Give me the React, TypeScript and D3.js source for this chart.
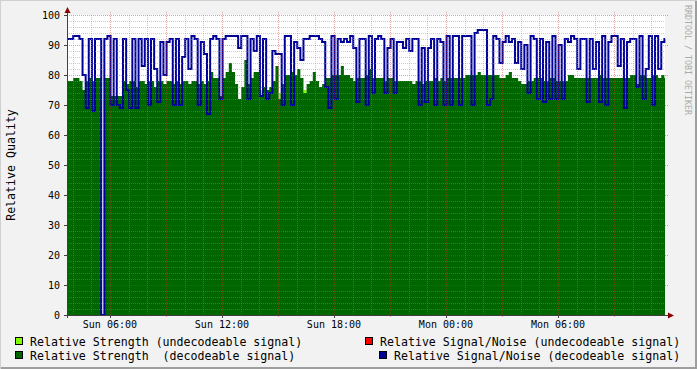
import React, { useEffect, useRef } from 'react';
import * as d3 from 'd3';

const WIDTH = 697;
const HEIGHT = 369;

// rrd samples, one every 10 minutes starting Sun 03:42
const startTime = new Date(2024, 0, 7, 3, 42);
const endTime = new Date(2024, 0, 8, 11, 44);
const stepMinutes = 10;

const snDecodeable = [
  92, 92, 93, 93, 92, 80, 69, 92, 68, 92,
  92, 0, 92, 93, 70, 92, 70, 69, 92, 75,
  69, 92, 69, 92, 83, 92, 70, 92, 82, 71,
  91, 80, 91, 92, 70, 92, 70, 86, 92, 82,
  93, 92, 70, 91, 87, 67, 92, 93, 92, 72,
  92, 93, 93, 93, 93, 89, 93, 93, 72, 92,
  88, 93, 73, 92, 72, 74, 88, 87, 87, 70,
  93, 93, 70, 91, 89, 85, 92, 92, 93, 93,
  93, 92, 91, 76, 69, 93, 72, 92, 91, 92,
  91, 93, 89, 71, 92, 92, 70, 93, 74, 92,
  93, 92, 74, 89, 92, 74, 91, 91, 89, 92,
  88, 92, 92, 70, 89, 71, 89, 92, 70, 92,
  91, 70, 93, 70, 93, 93, 70, 93, 93, 93,
  70, 94, 95, 95, 95, 70, 72, 93, 92, 84,
  91, 93, 91, 92, 84, 91, 82, 90, 74, 93,
  92, 72, 92, 71, 91, 72, 93, 72, 90, 72,
  92, 91, 93, 92, 82, 92, 92, 71, 92, 82,
  91, 71, 93, 70, 91, 93, 93, 83, 92, 69,
  91, 92, 92, 76, 93, 72, 82, 93, 70, 93,
  82, 91, 92,
];

const strengthDecodeable = [
  78, 78, 79, 79, 78, 75, 78, 79, 78, 79,
  79, 0, 79, 79, 73, 73, 73, 73, 78, 77,
  78, 78, 76, 78, 78, 77, 78, 78, 76, 78,
  78, 77, 78, 78, 77, 78, 77, 78, 78, 77,
  78, 78, 77, 78, 77, 78, 81, 79, 79, 73,
  79, 81, 84, 81, 77, 72, 76, 85, 77, 79,
  81, 81, 73, 76, 75, 76, 78, 83, 72, 77,
  80, 80, 81, 80, 82, 79, 74, 77, 78, 81,
  78, 76, 77, 79, 79, 80, 80, 80, 83, 80,
  80, 79, 78, 79, 79, 79, 80, 82, 79, 79,
  79, 79, 78, 79, 79, 78, 78, 78, 78, 78,
  78, 77, 78, 78, 77, 78, 78, 78, 79, 78,
  79, 78, 79, 79, 79, 79, 79, 79, 80, 80,
  80, 80, 81, 80, 80, 80, 80, 80, 80, 79,
  79, 80, 81, 79, 79, 78, 77, 77, 78, 78,
  79, 79, 79, 78, 78, 79, 79, 78, 78, 78,
  78, 80, 80, 79, 79, 79, 79, 79, 79, 79,
  79, 80, 79, 79, 79, 79, 79, 79, 79, 79,
  79, 80, 80, 77, 80, 80, 79, 79, 80, 80,
  79, 80, 79,
];

// undecodeable samples are mostly unknown: [slot, value]
const strengthUndecodeable: [number, number][] = [[62, 75], [68, 74], [76, 75]];
const snUndecodeable: [number, number][] = [];

const yTickValues = [0, 10, 20, 30, 40, 50, 60, 70, 80, 90, 100];

const legendItems = [
  { label: 'Relative Strength (undecodeable signal)', color: '#80ff00' },
  { label: 'Relative Signal/Noise (undecodeable signal)', color: '#ff0000' },
  { label: 'Relative Strength  (decodeable signal)', color: '#006600' },
  { label: 'Relative Signal/Noise (decodeable signal)', color: '#000099' },
];

const FONT = '"DejaVu Sans Mono", monospace';

const slotTime = (i: number) => new Date(startTime.getTime() + i * stepMinutes * 60000);

const RrdChart: React.FC = () => {
  const svgRef = useRef<SVGSVGElement | null>(null);

  useEffect(() => {
    if (!svgRef.current) return;
    const svg = d3.select(svgRef.current);
    svg.selectAll('*').remove();

    const left = 67, right = 665, top = 15, bottom = 315;
    const x = d3.scaleTime().domain([startTime, endTime]).range([left, right]);
    const y = d3.scaleLinear().domain([0, 100]).range([bottom, top]);

    // background + 3d border
    svg.append('rect').attr('width', WIDTH).attr('height', HEIGHT).attr('fill', '#f2f2f2');
    svg.append('path').attr('d', `M0,${HEIGHT} V0 H${WIDTH}`).attr('fill', 'none')
      .attr('stroke', '#d0d0d0').attr('stroke-width', 2);
    svg.append('path').attr('d', `M1,${HEIGHT - 1} H${WIDTH - 1} V1`).attr('fill', 'none')
      .attr('stroke', '#9e9e9e').attr('stroke-width', 2);

    svg.append('rect').attr('x', left).attr('y', top)
      .attr('width', right - left).attr('height', bottom - top).attr('fill', '#ffffff');

    const toPoints = (vals: number[]) => {
      const pts = vals.map((v, i) => ({ t: slotTime(i), v }));
      pts.push({ t: endTime, v: vals[vals.length - 1] });
      return pts;
    };

    // undecodeable strength (light green) sits behind
    strengthUndecodeable.forEach(([i, v]) => {
      svg.append('rect')
        .attr('x', x(slotTime(i)))
        .attr('y', y(v))
        .attr('width', x(slotTime(i + 1)) - x(slotTime(i)))
        .attr('height', y(0) - y(v))
        .attr('fill', '#80ff00');
    });

    const area = d3.area<{ t: Date; v: number }>()
      .x(d => x(d.t)).y0(y(0)).y1(d => y(d.v))
      .curve(d3.curveStepAfter);
    svg.append('path').datum(toPoints(strengthDecodeable))
      .attr('d', area).attr('fill', '#006600');

    snUndecodeable.forEach(([i, v]) => {
      svg.append('line')
        .attr('x1', x(slotTime(i))).attr('x2', x(slotTime(i + 1)))
        .attr('y1', y(v)).attr('y2', y(v))
        .attr('stroke', '#ff0000').attr('stroke-width', 2);
    });

    const line = d3.line<{ t: Date; v: number }>()
      .x(d => x(d.t)).y(d => y(d.v))
      .curve(d3.curveStepAfter);
    svg.append('path').datum(toPoints(snDecodeable))
      .attr('d', line).attr('fill', 'none')
      .attr('stroke', '#000099').attr('stroke-width', 2);

    // grid on top, rrdtool style dotted
    const minorColor = 'rgba(140,140,140,0.45)';
    const majorColor = 'rgba(210,40,40,0.45)';
    const grid = svg.append('g').attr('shape-rendering', 'crispEdges');

    d3.range(0, 101, 2).forEach(v => {
      const major = v % 10 === 0;
      const yy = Math.round(y(v)) + 0.5;
      grid.append('line')
        .attr('x1', major ? left - 2 : left).attr('x2', major ? right + 3 : right)
        .attr('y1', yy).attr('y2', yy)
        .attr('stroke', major ? majorColor : minorColor)
        .attr('stroke-dasharray', major && v !== 0 ? '1 1' : (major ? null : '1 1'));
    });

    d3.timeHour.range(startTime, endTime).forEach(t => {
      const major = t.getHours() % 3 === 0;
      const xx = Math.round(x(t)) + 0.5;
      grid.append('line')
        .attr('x1', xx).attr('x2', xx)
        .attr('y1', major ? top - 3 : top).attr('y2', major ? bottom + 3 : bottom)
        .attr('stroke', major ? majorColor : minorColor)
        .attr('stroke-dasharray', '1 1');
    });

    // axes
    const axisColor = '#404040';
    svg.append('line').attr('x1', left + 0.5).attr('x2', left + 0.5)
      .attr('y1', bottom + 3).attr('y2', 11).attr('stroke', axisColor);
    svg.append('line').attr('x1', left - 3).attr('x2', 670)
      .attr('y1', bottom + 0.5).attr('y2', bottom + 0.5).attr('stroke', axisColor);
    svg.append('path').attr('d', `M${left + 0.5},7 L${left + 3.5},13 L${left - 2.5},13 Z`).attr('fill', '#8b0000');
    svg.append('path').attr('d', `M674,${bottom + 0.5} L668,${bottom - 2.5} L668,${bottom + 3.5} Z`).attr('fill', '#8b0000');

    yTickValues.forEach(v => {
      const yy = Math.round(y(v)) + 0.5;
      svg.append('line').attr('x1', left - 3).attr('x2', left).attr('y1', yy).attr('y2', yy)
        .attr('stroke', axisColor);
      svg.append('text')
        .attr('x', 60).attr('y', y(v) + 3.5)
        .attr('text-anchor', 'end')
        .style('font-family', FONT).style('font-size', '10px').style('fill', '#000')
        .text(String(v));
    });

    const fmt = d3.timeFormat('%a %H:%M');
    d3.timeHour.every(6)!.range(startTime, endTime).forEach(t => {
      const xx = Math.round(x(t)) + 0.5;
      svg.append('line').attr('x1', xx).attr('x2', xx).attr('y1', bottom).attr('y2', bottom + 3)
        .attr('stroke', axisColor);
      svg.append('text')
        .attr('x', x(t)).attr('y', 328)
        .attr('text-anchor', 'middle')
        .style('font-family', FONT).style('font-size', '10px').style('fill', '#000')
        .text(fmt(t));
    });

    // axis title
    svg.append('text')
      .attr('transform', `translate(15,${(top + bottom) / 2}) rotate(-90)`)
      .attr('text-anchor', 'middle')
      .style('font-family', FONT).style('font-size', '11.6px').style('fill', '#000')
      .text('Relative Quality');

    // watermark
    svg.append('text')
      .attr('transform', 'translate(685,5) rotate(90)')
      .style('font-family', FONT).style('font-size', '8.3px').style('fill', '#aaaaaa')
      .text('RRDTOOL / TOBI OETIKER');

    // legend
    const legendPos = [
      { bx: 15, tx: 30, row: 0 },
      { bx: 365, tx: 380, row: 0 },
      { bx: 15, tx: 30, row: 1 },
      { bx: 379, tx: 394, row: 1 },
    ];
    legendItems.forEach((item, k) => {
      const p = legendPos[k];
      const by = 337 + p.row * 14;
      svg.append('rect')
        .attr('x', p.bx + 0.5).attr('y', by + 0.5).attr('width', 7).attr('height', 7)
        .attr('fill', item.color).attr('stroke', '#000').attr('stroke-width', 1);
      svg.append('text')
        .attr('x', p.tx).attr('y', by + 8.5)
        .attr('xml:space', 'preserve')
        .style('white-space', 'pre')
        .style('font-family', FONT).style('font-size', '11.6px').style('fill', '#000')
        .text(item.label);
    });
  }, []);

  return <svg ref={svgRef} width={WIDTH} height={HEIGHT} style={{ display: 'block' }} />;
};

export default function App() {
  return (
    <div style={{ position: 'absolute', left: 0, top: 0 }}>
      <RrdChart />
    </div>
  );
}
